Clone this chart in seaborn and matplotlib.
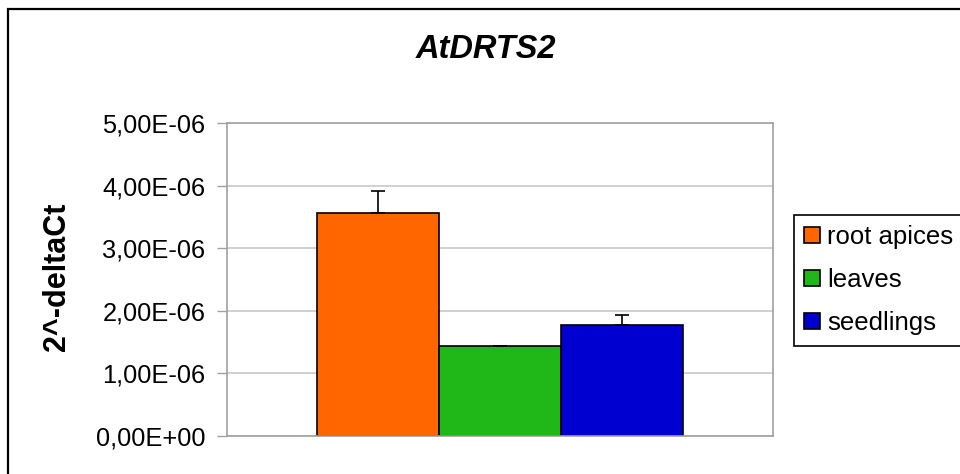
import matplotlib
matplotlib.use("Agg")
import matplotlib.pyplot as plt
from matplotlib.patches import Rectangle
from matplotlib.ticker import FuncFormatter, MultipleLocator
import seaborn as sns
import pandas as pd

# Expression of AtDRTS2 in three tissues (2^-deltaCt, mean and upper error)
tissues = ["root apices", "leaves", "seedlings"]
values = [3.56e-6, 1.43e-6, 1.78e-6]
errors = [0.36e-6, 0.01e-6, 0.16e-6]
colors = ["#FF6600", "#20B818", "#0000D0"]

sns.set_style("white")
plt.rcParams["font.family"] = ["Liberation Sans", "DejaVu Sans"]
plt.rcParams["text.color"] = "black"
plt.rcParams["ytick.labelcolor"] = "black"

df = pd.DataFrame({"gene": ["AtDRTS2"] * 3, "tissue": tissues, "value": values})

fig = plt.figure(figsize=(9.6, 4.74), dpi=100)
ax = fig.add_axes([227 / 960, 1 - 436 / 474, 546 / 960, 313 / 474])

sns.barplot(data=df, x="gene", y="value", hue="tissue", hue_order=tissues,
            palette=colors, edgecolor="black", linewidth=1.2, width=0.67,
            errorbar=None, saturation=1, ax=ax)

# upper-only error bars placed on the drawn bars
for cont, err in zip(ax.containers, errors):
    for bar in cont:
        xc = bar.get_x() + bar.get_width() / 2
        ax.errorbar(xc, bar.get_height(), yerr=[[0], [err]], fmt="none",
                    ecolor="black", elinewidth=1.2, capsize=5, capthick=1.2,
                    zorder=1)

ax.set_ylim(0, 5e-6)
ax.set_xlim(-0.5, 0.5)
ax.yaxis.set_major_locator(MultipleLocator(1e-6))
ax.yaxis.set_major_formatter(
    FuncFormatter(lambda v, _: f"{v:.2E}".replace(".", ",")))
ax.set_xticks([])
ax.set_xlabel("")
ax.set_ylabel("")
ax.tick_params(axis="y", labelsize=18.3, length=7, width=1, color="#A0A0A0",
               labelcolor="black", pad=8.5, left=True)
ax.grid(axis="y", color="#C8C8C8", linewidth=1.2)
ax.set_axisbelow(True)
for s in ax.spines.values():
    s.set_visible(True)
    s.set_color("#A0A0A0")
    s.set_linewidth(1.2)

handles, labels = ax.get_legend_handles_labels()
if ax.get_legend() is not None:
    ax.get_legend().remove()
leg = fig.legend(handles, labels, loc="upper left",
                 bbox_to_anchor=(794 / 960, 1 - 215 / 474),
                 fontsize=18.5, frameon=True, fancybox=False, framealpha=1,
                 edgecolor="black", borderpad=0.4, handlelength=0.6,
                 handleheight=0.6, handletextpad=0.3, borderaxespad=0,
                 labelspacing=0.74)
leg.get_frame().set_linewidth(1.2)

fig.text(486 / 960, 1 - 50 / 474, "AtDRTS2", ha="center", va="center",
         fontsize=23.5, fontweight="bold", fontstyle="italic", color="black")
fig.text(57 / 960, 0.5 * (1 - 200 / 474) + 0.5 * (1 - 353 / 474), "2^-deltaCt",
         ha="center", va="center", rotation=90, fontsize=22,
         fontweight="bold", color="black")

# outer chart border
fig.patches.append(Rectangle((8 / 960, -0.1), 1.2, 1 - 9 / 474 + 0.1,
                             transform=fig.transFigure, fill=False,
                             edgecolor="black", linewidth=1.6))

fig.savefig("out.png", dpi=100)
